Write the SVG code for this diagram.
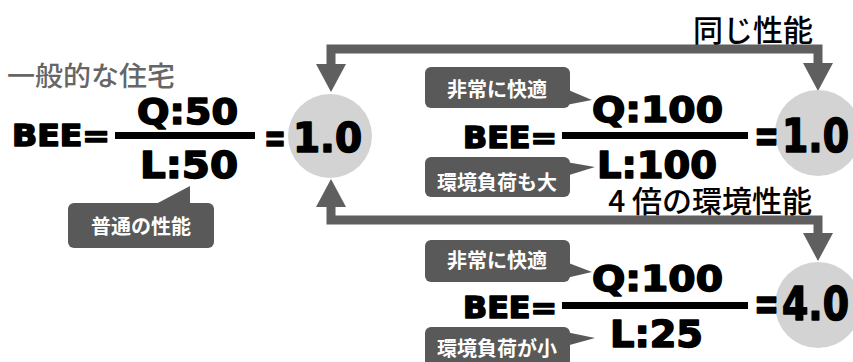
<svg xmlns="http://www.w3.org/2000/svg" width="853" height="362" viewBox="0 0 853 362">
<defs>
<style>
.eq{font-family:"DejaVu Sans","Liberation Sans",sans-serif;font-weight:bold;fill:#000;stroke:#000;stroke-width:1.6;stroke-linejoin:round}
.bar{fill:#000}
.circ{fill:#d3d3d3}
.call{fill:#595959}
.ctext{font-family:"Noto Sans CJK JP","Noto Sans",sans-serif;font-weight:bold;fill:#fff;font-size:20px;text-anchor:middle}
.jp{font-family:"Noto Sans CJK JP","Noto Sans",sans-serif;font-weight:500}
.conn{fill:none;stroke:#5f5f5f;stroke-width:9;stroke-linejoin:miter}
</style>
<marker id="ah" viewBox="0 0 28 30" refX="0" refY="15" markerWidth="28" markerHeight="30" markerUnits="userSpaceOnUse" orient="auto-start-reverse">
<path d="M0,0 L28,15 L0,30 z" fill="#5f5f5f"/>
</marker>
</defs>
<rect width="853" height="362" fill="#fff"/>

<g id="connectors">
<path class="conn" d="M331,64 V49 H818 V63" marker-start="url(#ah)" marker-end="url(#ah)"/>
<path class="conn" d="M331,207 V220 H818 V233" marker-start="url(#ah)" marker-end="url(#ah)"/>
</g>

<g id="label-general">
<text class="jp" x="7" y="86" font-size="27" fill="#666" textLength="168" lengthAdjust="spacingAndGlyphs">一般的な住宅</text>
</g>

<g id="label-same">
<text class="jp" x="813" y="41" font-size="30" fill="#000" font-weight="bold" text-anchor="end">同じ性能</text>
</g>

<g id="label-4x">
<text class="jp" x="812" y="212" font-size="30" fill="#000" text-anchor="end">4 倍の環境性能</text>
</g>

<g id="circle-left">
<circle class="circ" cx="330" cy="136" r="42"/>
</g>
<g id="circle-right-top">
<circle class="circ" cx="818" cy="133" r="43"/>
</g>
<g id="circle-right-bottom">
<circle class="circ" cx="818" cy="305" r="43"/>
</g>

<g id="eq-left">
<text class="eq" x="12" y="146" font-size="30" textLength="98" lengthAdjust="spacingAndGlyphs">BEE=</text>
<rect class="bar" x="115" y="132" width="140" height="7"/>
<text class="eq" x="137" y="124" font-size="36" textLength="101" lengthAdjust="spacingAndGlyphs">Q:50</text>
<text class="eq" x="140" y="178" font-size="37" textLength="98" lengthAdjust="spacingAndGlyphs">L:50</text>
<text class="eq" x="264" y="152" font-size="40" textLength="22" lengthAdjust="spacingAndGlyphs">=</text>
<text class="eq" x="293" y="152" font-size="40" textLength="69" lengthAdjust="spacingAndGlyphs">1.0</text>
</g>

<g id="callout-normal">
<rect class="call" x="68" y="203" width="146" height="45" rx="6"/>
<polygon class="call" points="154,205 190,186 190,205"/>
<text class="ctext" x="141" y="234" font-size="21">普通の性能</text>
</g>

<g id="eq-middle">
<text class="eq" x="463" y="148" font-size="30" textLength="94" lengthAdjust="spacingAndGlyphs">BEE=</text>
<rect class="bar" x="562" y="132" width="186" height="7"/>
<text class="eq" x="592" y="122" font-size="36" textLength="131" lengthAdjust="spacingAndGlyphs">Q:100</text>
<text class="eq" x="597" y="178" font-size="37" textLength="120" lengthAdjust="spacingAndGlyphs">L:100</text>
<text class="eq" x="754" y="152" font-size="46" textLength="25" lengthAdjust="spacingAndGlyphs">=</text>
<text class="eq" x="782" y="152" font-size="47" textLength="67" lengthAdjust="spacingAndGlyphs">1.0</text>
</g>

<g id="callout-comfort-1">
<rect class="call" x="425" y="67" width="145" height="41" rx="6"/>
<polygon class="call" points="566,89 592,100 566,105"/>
<text class="ctext" x="497" y="97">非常に快適</text>
</g>

<g id="callout-load-large">
<rect class="call" x="425" y="157" width="145" height="40" rx="6"/>
<polygon class="call" points="566,162 595,167 566,176"/>
<text class="ctext" x="497" y="190">環境負荷も大</text>
</g>

<g id="eq-bottom">
<text class="eq" x="463" y="318" font-size="30" textLength="94" lengthAdjust="spacingAndGlyphs">BEE=</text>
<rect class="bar" x="562" y="302" width="186" height="7"/>
<text class="eq" x="592" y="291" font-size="36" textLength="131" lengthAdjust="spacingAndGlyphs">Q:100</text>
<text class="eq" x="610" y="347" font-size="37" textLength="93" lengthAdjust="spacingAndGlyphs">L:25</text>
<text class="eq" x="754" y="320" font-size="46" textLength="25" lengthAdjust="spacingAndGlyphs">=</text>
<text class="eq" x="782" y="320" font-size="47" textLength="67" lengthAdjust="spacingAndGlyphs">4.0</text>
</g>

<g id="callout-comfort-2">
<rect class="call" x="425" y="240" width="145" height="42" rx="6"/>
<polygon class="call" points="566,262 592,272 566,278"/>
<text class="ctext" x="497" y="268">非常に快適</text>
</g>

<g id="callout-load-small">
<rect class="call" x="425" y="327" width="145" height="45" rx="6"/>
<polygon class="call" points="566,332 595,338 566,346"/>
<text class="ctext" x="497" y="356">環境負荷が小</text>
</g>
</svg>
